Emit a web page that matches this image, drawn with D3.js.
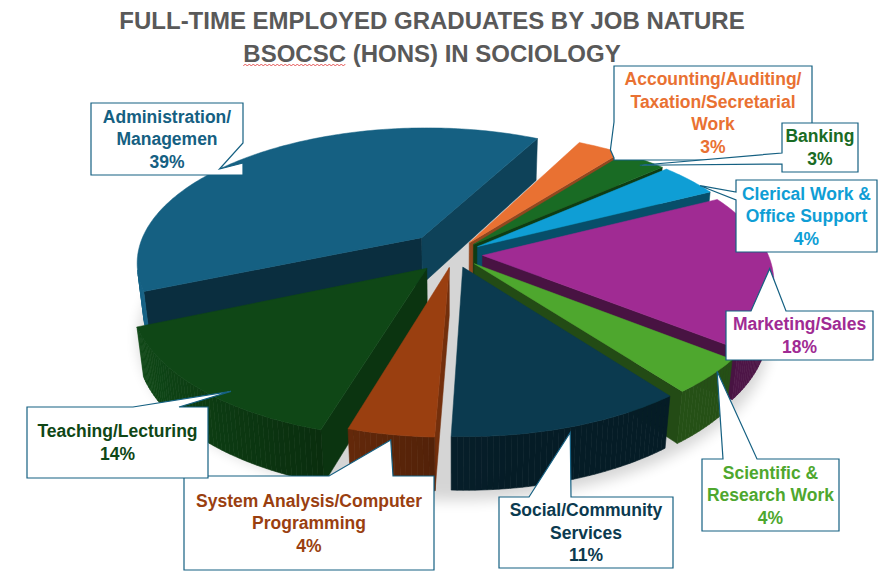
<!DOCTYPE html>
<html>
<head>
<meta charset="utf-8">
<script src="https://cdn.jsdelivr.net/npm/d3@7"></script>
<style>
  body { margin: 0; background: #fff; }
  text { font-family: "Liberation Sans", Arial, sans-serif; font-weight: bold; }
</style>
</head>
<body>
<script>
const categories = [
  "Administration/Managemen",
  "Accounting/Auditing/Taxation/Secretarial Work",
  "Banking",
  "Clerical Work & Office Support",
  "Marketing/Sales",
  "Scientific & Research Work",
  "Social/Community Services",
  "System Analysis/Computer Programming",
  "Teaching/Lecturing"
];
const labelLines = [
  ["Administration/", "Managemen"],
  ["Accounting/Auditing/", "Taxation/Secretarial", "Work"],
  ["Banking"],
  ["Clerical Work &", "Office Support"],
  ["Marketing/Sales"],
  ["Scientific &", "Research Work"],
  ["Social/Community", "Services"],
  ["System Analysis/Computer", "Programming"],
  ["Teaching/Lecturing"]
];
const values = [39, 3, 3, 4, 18, 4, 11, 4, 14];
const colors = ["#156082", "#E97132", "#196B24", "#0F9ED5", "#A02B93", "#4EA72E", "#0B3A4F", "#9A3F10", "#0F4716"];
const titleLines = ["FULL-TIME EMPLOYED GRADUATES BY JOB NATURE", "BSOCSC (HONS) IN SOCIOLOGY"];

// how far each slice is pulled out (fraction of radius)
const explodeBy = [0.17, 0.1, 0.1, 0.1, 0.1, 0.1, 0.1, 0.1, 0.14];

// callout boxes: box position, side the pointer leaves from, pointer base along that side,
// and where on the slice the pointer ends (t along the arc, r radius, z height)
const callouts = [
  {x: 91,  y: 103, w: 152, h: 72, side: "right", b0: 40,  b1: 60,  t: 0.42, r: 1, z: 1},
  {x: 614, y: 66,  w: 198, h: 94, side: "left",  b0: 56,  b1: 92,  t: 0.75, r: 1, z: 1},
  {x: 782, y: 123, w: 76,  h: 49, side: "left",  b0: 30,  b1: 41,  t: 0.6, r: 0.95, z: 1},
  {x: 736, y: 180, w: 141, h: 72, side: "left",  b0: 12,  b1: 20,  t: 0.75, r: 1, z: 1},
  {x: 726, y: 311, w: 147, h: 49, side: "top",   b0: 25,  b1: 60,  t: 0.45, r: 1, z: 0.85},
  {x: 702, y: 459, w: 137, h: 72, side: "top",   b0: 21,  b1: 55,  t: 0.35, r: 1, z: 1},
  {x: 499, y: 497, w: 174, h: 71, side: "top",   b0: 30,  b1: 72,  t: 0.5, r: 1, z: 0.9},
  {x: 184, y: 476, w: 250, h: 94, side: "top",   b0: 145, b1: 209, t: 0.5, r: 1, z: 0.9},
  {x: 27,  y: 407, w: 181, h: 71, side: "top",   b0: 106, b1: 152, t: 0.4, r: 0.95, z: 1}
];

const width = 896, height = 584;
const svg = d3.select("body").append("svg")
  .attr("width", width)
  .attr("height", height);

// ---- camera for the 3D pie ----
const deg = Math.PI / 180;
const el = 30 * deg;
const dist = 5, focal = 1400;
const ox = 454, oy = 301;
const thick = 0.19;
const firstAngle = 247;
const camY = -dist * Math.cos(el), camZ = dist * Math.sin(el);

function project(p) {
  const vx = p[0], vy = p[1] - camY, vz = p[2] - camZ;
  const yc = vy * Math.sin(el) + vz * Math.cos(el);
  const zc = vy * Math.cos(el) - vz * Math.sin(el);
  return [ox + focal * vx / zc, oy - focal * yc / zc];
}
function depth(p) {
  const vy = p[1] - camY, vz = p[2] - camZ;
  return vy * Math.cos(el) - vz * Math.sin(el);
}
function facing(n, p) {
  return n[0] * (0 - p[0]) + n[1] * (camY - p[1]) + n[2] * (camZ - p[2]) > 0;
}
function shade(c, k) {
  const col = d3.rgb(c);
  return d3.rgb(col.r * k, col.g * k, col.b * k).formatHex();
}
const line = d3.line();

const pie = d3.pie().sort(null).value(d => d)
  .startAngle(firstAngle * deg).endAngle((firstAngle + 360) * deg);
const arcs = pie(values).map((a, i) => {
  const mid = (a.startAngle + a.endAngle) / 2;
  const e = explodeBy[i];
  const off = [e * Math.sin(mid), e * Math.cos(mid)];
  const pt = (ang, r, z) => [off[0] + r * Math.sin(ang), off[1] + r * Math.cos(ang), z];
  return {i, a0: a.startAngle, a1: a.endAngle, mid, pt, value: a.value};
});

// ground shadow
const defs = svg.append("defs");
defs.append("filter").attr("id", "blur")
  .attr("x", "-20%").attr("y", "-20%").attr("width", "140%").attr("height", "140%")
  .append("feGaussianBlur").attr("stdDeviation", 7);
const ring = d3.range(0, 361, 3).map(d => project([Math.sin(d * deg) * 1.1, Math.cos(d * deg) * 1.1 - 0.03, -0.01]));
svg.append("path").attr("d", line(ring) + "Z")
  .attr("fill", "#000").attr("opacity", 0.16).attr("filter", "url(#blur)");

const pieG = svg.append("g");
const order = arcs.slice().sort((p, q) => depth(q.pt(q.mid, 0.6, thick / 2)) - depth(p.pt(p.mid, 0.6, thick / 2)));

const radialK = n => 0.45 + 0.3 * Math.pow(Math.max(0, Math.cos(n - 95 * deg)), 3);
const wallK = n => 0.48 + 0.55 * Math.pow(Math.max(0, Math.cos(n - 260 * deg)), 1.5);

order.forEach(s => {
  const g = pieG.append("g");
  const c = colors[s.i];

  // radial cut faces
  const n0 = [-Math.cos(s.a0), Math.sin(s.a0), 0];
  const n1 = [Math.cos(s.a1), -Math.sin(s.a1), 0];
  [[s.a0, n0, s.a0 - 90 * deg], [s.a1, n1, s.a1 + 90 * deg]].forEach(([ang, n, nAng]) => {
    if (!facing(n, s.pt(ang, 0.5, thick / 2))) return;
    const poly = [s.pt(0, 0, 0), s.pt(ang, 1, 0), s.pt(ang, 1, thick), s.pt(0, 0, thick)].map(project);
    const f = shade(c, radialK(nAng));
    g.append("path").attr("d", line(poly) + "Z")
      .attr("fill", f).attr("stroke", f).attr("stroke-width", 0.5);
  });

  // outer curved wall, in thin strips
  const steps = Math.max(2, Math.ceil((s.a1 - s.a0) / deg));
  for (let k = 0; k < steps; k++) {
    const b0 = s.a0 + (s.a1 - s.a0) * k / steps;
    const b1 = s.a0 + (s.a1 - s.a0) * (k + 1) / steps;
    const bm = (b0 + b1) / 2;
    if (!facing([Math.sin(bm), Math.cos(bm), 0], s.pt(bm, 1, thick / 2))) continue;
    const f = shade(c, wallK(bm));
    const poly = [s.pt(b0, 1, 0), s.pt(b1, 1, 0), s.pt(b1, 1, thick), s.pt(b0, 1, thick)].map(project);
    g.append("path").attr("d", line(poly) + "Z")
      .attr("fill", f).attr("stroke", f).attr("stroke-width", 0.6);
  }

  // top face
  const top = [s.pt(0, 0, thick)];
  for (let k = 0; k <= steps; k++) top.push(s.pt(s.a0 + (s.a1 - s.a0) * k / steps, 1, thick));
  g.append("path").attr("d", line(top.map(project)) + "Z")
    .attr("fill", c).attr("stroke", c).attr("stroke-width", 0.5);
});

// ---- callouts ----
const fmt = d3.format(".0%");
const total = d3.sum(values);
const labG = svg.append("g");
arcs.forEach(s => {
  const b = callouts[s.i];
  const tip = project(s.pt(s.a0 + (s.a1 - s.a0) * b.t, b.r, thick * b.z));
  let pts;
  if (b.side === "top") {
    pts = [[b.x, b.y], [b.x + b.b0, b.y], tip, [b.x + b.b1, b.y], [b.x + b.w, b.y], [b.x + b.w, b.y + b.h], [b.x, b.y + b.h]];
  } else if (b.side === "left") {
    pts = [[b.x, b.y], [b.x + b.w, b.y], [b.x + b.w, b.y + b.h], [b.x, b.y + b.h], [b.x, b.y + b.b1], tip, [b.x, b.y + b.b0]];
  } else {
    pts = [[b.x, b.y], [b.x + b.w, b.y], [b.x + b.w, b.y + b.b0], tip, [b.x + b.w, b.y + b.b1], [b.x + b.w, b.y + b.h], [b.x, b.y + b.h]];
  }
  labG.append("path").attr("d", line(pts) + "Z")
    .attr("fill", "#fff").attr("stroke", "#156082").attr("stroke-width", 1.2);

  const lines = labelLines[s.i].concat([fmt(s.value / total)]);
  const cx = b.x + b.w / 2, cy = b.y + b.h / 2, lh = 22.5;
  labG.append("text")
    .attr("text-anchor", "middle")
    .attr("fill", colors[s.i])
    .attr("font-size", 17.5)
    .selectAll("tspan").data(lines).join("tspan")
      .attr("x", cx)
      .attr("y", (d, k) => cy + (k - (lines.length - 1) / 2) * lh)
      .attr("dy", "0.35em")
      .text(d => d);
});

// ---- title ----
const title = svg.append("g").attr("fill", "#595959").attr("font-size", 24).attr("text-anchor", "middle");
title.append("text").attr("x", 432).attr("y", 29).text(titleLines[0]);
const t2 = title.append("text").attr("x", 432).attr("y", 62).text(titleLines[1]);

// spell-check squiggle under the first word
const tn = t2.node();
const wx0 = tn.getStartPositionOfChar(0).x;
const wx1 = wx0 + tn.getSubStringLength(0, titleLines[1].split(" ")[0].length);
const sq = [];
for (let x = wx0, k = 0; x <= wx1; x += 2, k++) sq.push([x, k % 2 ? 64 : 66]);
svg.append("path").attr("d", line(sq)).attr("fill", "none").attr("stroke", "#e03030").attr("stroke-width", 0.8);
</script>
</body>
</html>
